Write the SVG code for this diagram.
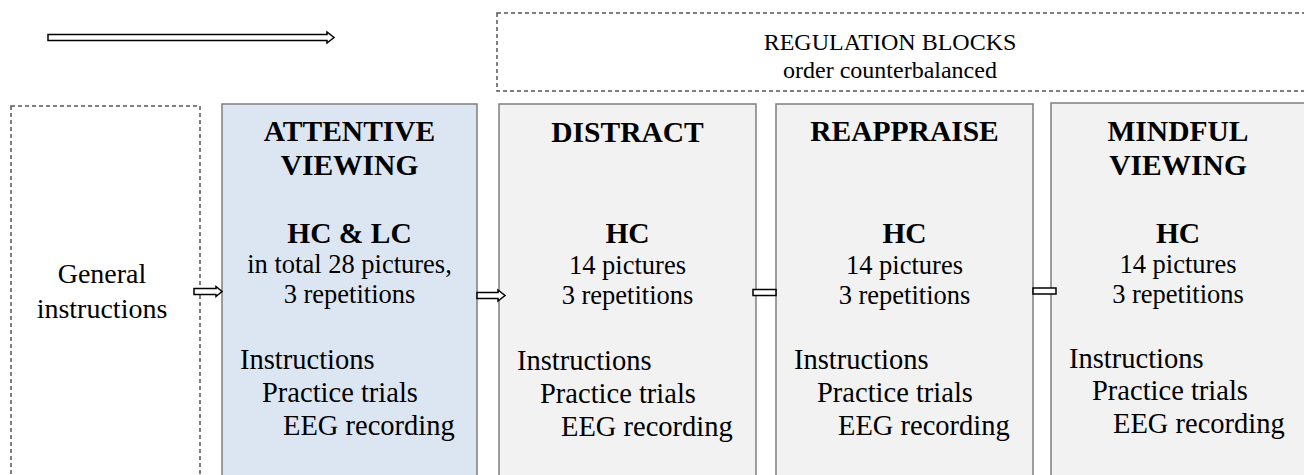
<svg xmlns="http://www.w3.org/2000/svg" width="1304" height="475" viewBox="0 0 1304 475">
<style>
.bg{fill:#ffffff}
.box{stroke:#7f7f7f;stroke-width:1.5}
.blue{fill:#dce6f2}
.grey{fill:#f2f2f2}
.dash{fill:none;stroke:#555555;stroke-width:1.5;stroke-dasharray:4,3}
.arr{fill:#ffffff;stroke:#000000;stroke-width:1.5;stroke-linejoin:miter}
text{font-family:"Liberation Serif","Times New Roman",Times,serif;fill:#000000}
.t{font-size:29.5px;font-weight:bold;text-anchor:middle}
.m{font-size:26.5px;text-anchor:middle}
.l{font-size:28.5px}
.g{font-size:28px;text-anchor:middle}
.r{font-size:24px;text-anchor:middle}
</style>
<rect class="bg" x="0" y="0" width="1304" height="475"/>
<g id="regulation-blocks">
<rect class="dash" x="497" y="13" width="820" height="78"/>
<text class="r" x="890" y="50">REGULATION BLOCKS</text>
<text class="r" x="890" y="78">order counterbalanced</text>
</g>
<g id="general-instructions">
<rect class="dash" x="11" y="106" width="189" height="380"/>
<text class="g" x="102" y="283">General</text>
<text class="g" x="102" y="318">instructions</text>
</g>
<g id="attentive-viewing">
<rect class="box blue" x="222" y="104" width="255" height="380"/>
<text class="t" x="349.5" y="141">ATTENTIVE</text>
<text class="t" x="349.5" y="175">VIEWING</text>
<text class="t" x="349.5" y="243">HC &amp; LC</text>
<text class="m" x="349.5" y="273">in total 28 pictures,</text>
<text class="m" x="349.5" y="303">3 repetitions</text>
<text class="l" x="240" y="369">Instructions</text>
<text class="l" x="262" y="402">Practice trials</text>
<text class="l" x="283" y="435">EEG recording</text>
</g>
<g id="distract">
<rect class="box grey" x="499" y="104" width="257" height="380"/>
<text class="t" x="627.5" y="142">DISTRACT</text>
<text class="t" x="627.5" y="243">HC</text>
<text class="m" x="627.5" y="274">14 pictures</text>
<text class="m" x="627.5" y="304">3 repetitions</text>
<text class="l" x="517" y="370">Instructions</text>
<text class="l" x="540" y="403">Practice trials</text>
<text class="l" x="561" y="436">EEG recording</text>
</g>
<g id="reappraise">
<rect class="box grey" x="776" y="104" width="257" height="380"/>
<text class="t" x="904.5" y="141">REAPPRAISE</text>
<text class="t" x="904.5" y="243">HC</text>
<text class="m" x="904.5" y="274">14 pictures</text>
<text class="m" x="904.5" y="304">3 repetitions</text>
<text class="l" x="794" y="369">Instructions</text>
<text class="l" x="817" y="402">Practice trials</text>
<text class="l" x="838" y="435">EEG recording</text>
</g>
<g id="mindful-viewing">
<rect class="box grey" x="1051" y="103" width="260" height="380"/>
<text class="t" x="1178" y="141">MINDFUL</text>
<text class="t" x="1178" y="175">VIEWING</text>
<text class="t" x="1178" y="243">HC</text>
<text class="m" x="1178" y="273">14 pictures</text>
<text class="m" x="1178" y="303">3 repetitions</text>
<text class="l" x="1069" y="368">Instructions</text>
<text class="l" x="1092" y="400">Practice trials</text>
<text class="l" x="1113" y="433">EEG recording</text>
</g>
<g id="connectors">
<polygon class="arr" points="48,34.5 327,34.5 327,32 334,37.5 327,43 327,40.5 48,40.5"/>
<polygon class="arr" points="194,288.5 216,288.5 216,286.5 222,291.5 216,296.5 216,294.5 194,294.5"/>
<polygon class="arr" points="477,292.5 498,292.5 498,290 505,295.5 498,301 498,298.5 477,298.5"/>
<polygon class="arr" points="753,289.5 776,289.5 776,295.5 753,295.5"/>
<polygon class="arr" points="1033,288 1056,288 1056,294 1033,294"/>
</g>
</svg>
